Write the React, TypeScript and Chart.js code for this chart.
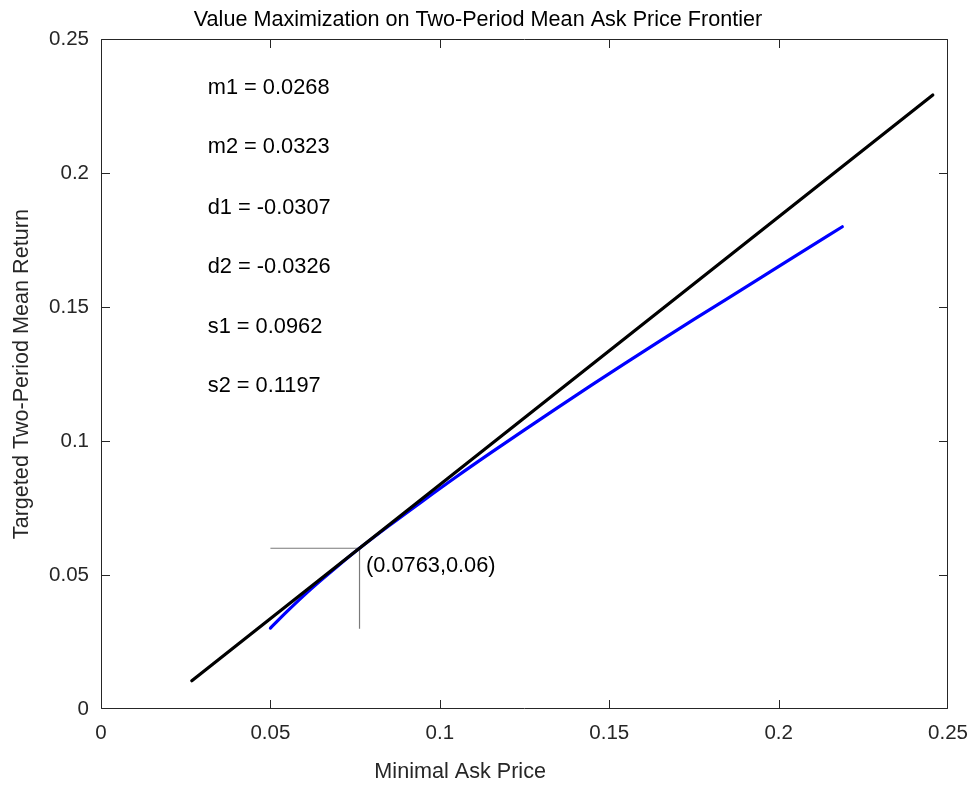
import React, { useEffect, useRef } from "react";
import { Chart, registerables } from "chart.js";

Chart.register(...registerables);

// ---- data ----
const frontierX = [0.05, 0.055, 0.06, 0.065, 0.07, 0.0763, 0.085, 0.095, 0.105, 0.115, 0.125, 0.135, 0.145, 0.155, 0.165, 0.175, 0.185, 0.195, 0.205, 0.2188];
const frontierY = [0.0302, 0.0365, 0.0425, 0.0481, 0.0535, 0.06, 0.0684, 0.0777, 0.0868, 0.0956, 0.1042, 0.1127, 0.1211, 0.1293, 0.1374, 0.1454, 0.1533, 0.1612, 0.1691, 0.18];

const tangentX = [0.0268, 0.2455];
const tangentY = [0.0105, 0.2292];

const markerX = [0.05, 0.0763, 0.0763];
const markerY = [0.06, 0.06, 0.03];

const xTickValues = [0, 0.05, 0.1, 0.15, 0.2, 0.25];
const xTickLabels = ["0", "0.05", "0.1", "0.15", "0.2", "0.25"];
const yTickValues = [0, 0.05, 0.1, 0.15, 0.2, 0.25];
const yTickLabels = ["0", "0.05", "0.1", "0.15", "0.2", "0.25"];

const noteLabels = ["m1 = 0.0268", "m2 = 0.0323", "d1 = -0.0307", "d2 = -0.0326", "s1 = 0.0962", "s2 = 0.1197"];
const noteX = [0.0315, 0.0315, 0.0315, 0.0315, 0.0315, 0.0315];
const noteY = [0.2318, 0.2098, 0.187, 0.165, 0.1426, 0.1206];

const pointLabel = "(0.0763,0.06)";
const pointLabelX = 0.0782;
const pointLabelY = 0.0535;

const titleText = "Value Maximization on Two-Period Mean Ask Price Frontier";
const xTitle = "Minimal Ask Price";
const xTitleAt = 0.106; // x-axis value under the label's centre
const yTitle = "Targeted Two-Period Mean Return";

const FONT = "'Liberation Sans', Arial, Helvetica, sans-serif";
const AXIS_COLOR = "#262626";

const toPoints = (xs: number[], ys: number[]) => xs.map((x, i) => ({ x, y: ys[i] }));

const boxPlugin = {
  id: "matlabBox",
  afterDatasetsDraw(chart: any) {
    const { ctx, chartArea, scales } = chart;
    const xs = scales.x;
    const ys = scales.y;
    ctx.save();
    // annotations
    ctx.fillStyle = "#000";
    ctx.font = `21.8px ${FONT}`;
    ctx.textAlign = "left";
    ctx.textBaseline = "middle";
    noteLabels.forEach((t, i) => {
      ctx.fillText(t, xs.getPixelForValue(noteX[i]), ys.getPixelForValue(noteY[i]));
    });
    ctx.fillText(pointLabel, xs.getPixelForValue(pointLabelX), ys.getPixelForValue(pointLabelY));

    // x axis title
    ctx.fillStyle = AXIS_COLOR;
    ctx.font = `21.6px ${FONT}`;
    ctx.textAlign = "center";
    ctx.fillText(xTitle, xs.getPixelForValue(xTitleAt), 772);

    // box
    const l = Math.round(chartArea.left) + 0.5;
    const r = Math.round(chartArea.right) - 0.5;
    const t = Math.round(chartArea.top) + 0.5;
    const b = Math.round(chartArea.bottom) - 0.5;
    const clamp = (v: number, lo: number, hi: number) => Math.min(hi, Math.max(lo, v));
    ctx.strokeStyle = AXIS_COLOR;
    ctx.lineWidth = 1;
    ctx.beginPath();
    ctx.rect(l, t, r - l, b - t);
    ctx.stroke();
    const tl = 8.5;
    ctx.beginPath();
    xTickValues.forEach((v) => {
      const px = clamp(Math.round(xs.getPixelForValue(v)) + 0.5, l, r);
      ctx.moveTo(px, b);
      ctx.lineTo(px, b - tl);
      ctx.moveTo(px, t);
      ctx.lineTo(px, t + tl);
    });
    yTickValues.forEach((v) => {
      const py = clamp(Math.round(ys.getPixelForValue(v)) + 0.5, t, b);
      ctx.moveTo(l, py);
      ctx.lineTo(l + tl, py);
      ctx.moveTo(r, py);
      ctx.lineTo(r - tl, py);
    });
    ctx.stroke();
    ctx.restore();
  },
};

export default function App() {
  const ref = useRef<HTMLCanvasElement | null>(null);

  useEffect(() => {
    if (!ref.current) return;
    const chart = new Chart(ref.current, {
      type: "line",
      data: {
        datasets: [
          {
            label: "tangent",
            data: toPoints(tangentX, tangentY),
            borderColor: "#000000",
            borderWidth: 3.2,
            borderCapStyle: "round",
            pointRadius: 0,
            fill: false,
          },
          {
            label: "frontier",
            data: toPoints(frontierX, frontierY),
            borderColor: "#0000ff",
            borderWidth: 3.2,
            borderCapStyle: "round",
            borderJoinStyle: "round",
            cubicInterpolationMode: "monotone",
            pointRadius: 0,
            fill: false,
          },
          {
            label: "marker",
            data: toPoints(markerX, markerY),
            borderColor: "#7a7a7a",
            borderWidth: 1.2,
            pointRadius: 0,
            tension: 0,
            fill: false,
          },
        ],
      },
      options: {
        responsive: false,
        animation: false,
        events: [],
        layout: { padding: { left: 0, right: 24, top: 0, bottom: 0 } },
        plugins: {
          legend: { display: false },
          tooltip: { enabled: false },
          title: {
            display: true,
            text: titleText,
            color: "#000",
            font: { family: FONT, size: 21.6, weight: "normal" },
            padding: { top: 7, bottom: 6.3 },
          },
        },
        scales: {
          x: {
            type: "linear",
            min: 0,
            max: 0.25,
            grid: { display: false, drawTicks: false },
            border: { display: false },
            afterBuildTicks: (s: any) => {
              s.ticks = xTickValues.map((v) => ({ value: v }));
            },
            afterFit: (s: any) => {
              s.height = 77;
            },
            ticks: {
              color: AXIS_COLOR,
              font: { family: FONT, size: 20.5 },
              padding: 12,
              maxRotation: 0,
              autoSkip: false,
              callback: (v: any) => {
                const i = xTickValues.findIndex((t) => Math.abs(t - Number(v)) < 1e-9);
                return i >= 0 ? xTickLabels[i] : "";
              },
            },
            title: { display: false },
          },
          y: {
            type: "linear",
            min: 0,
            max: 0.25,
            grid: { display: false, drawTicks: false },
            border: { display: false },
            afterBuildTicks: (s: any) => {
              s.ticks = yTickValues.map((v) => ({ value: v }));
            },
            afterFit: (s: any) => {
              s.width = 101;
            },
            ticks: {
              color: AXIS_COLOR,
              font: { family: FONT, size: 20.5 },
              padding: 12,
              autoSkip: false,
              callback: (v: any) => {
                const i = yTickValues.findIndex((t) => Math.abs(t - Number(v)) < 1e-9);
                return i >= 0 ? yTickLabels[i] : "";
              },
            },
            title: {
              display: true,
              text: yTitle,
              color: AXIS_COLOR,
              font: { family: FONT, size: 21.6 },
              padding: { top: 9.5, bottom: 0 },
            },
          },
        },
      },
      plugins: [boxPlugin],
    } as any);
    return () => chart.destroy();
  }, []);

  return (
    <div style={{ position: "absolute", left: 0, top: 0, width: 980, height: 786, background: "#fff" }}>
      <canvas ref={ref} width={980} height={786} style={{ display: "block" }} />
    </div>
  );
}
